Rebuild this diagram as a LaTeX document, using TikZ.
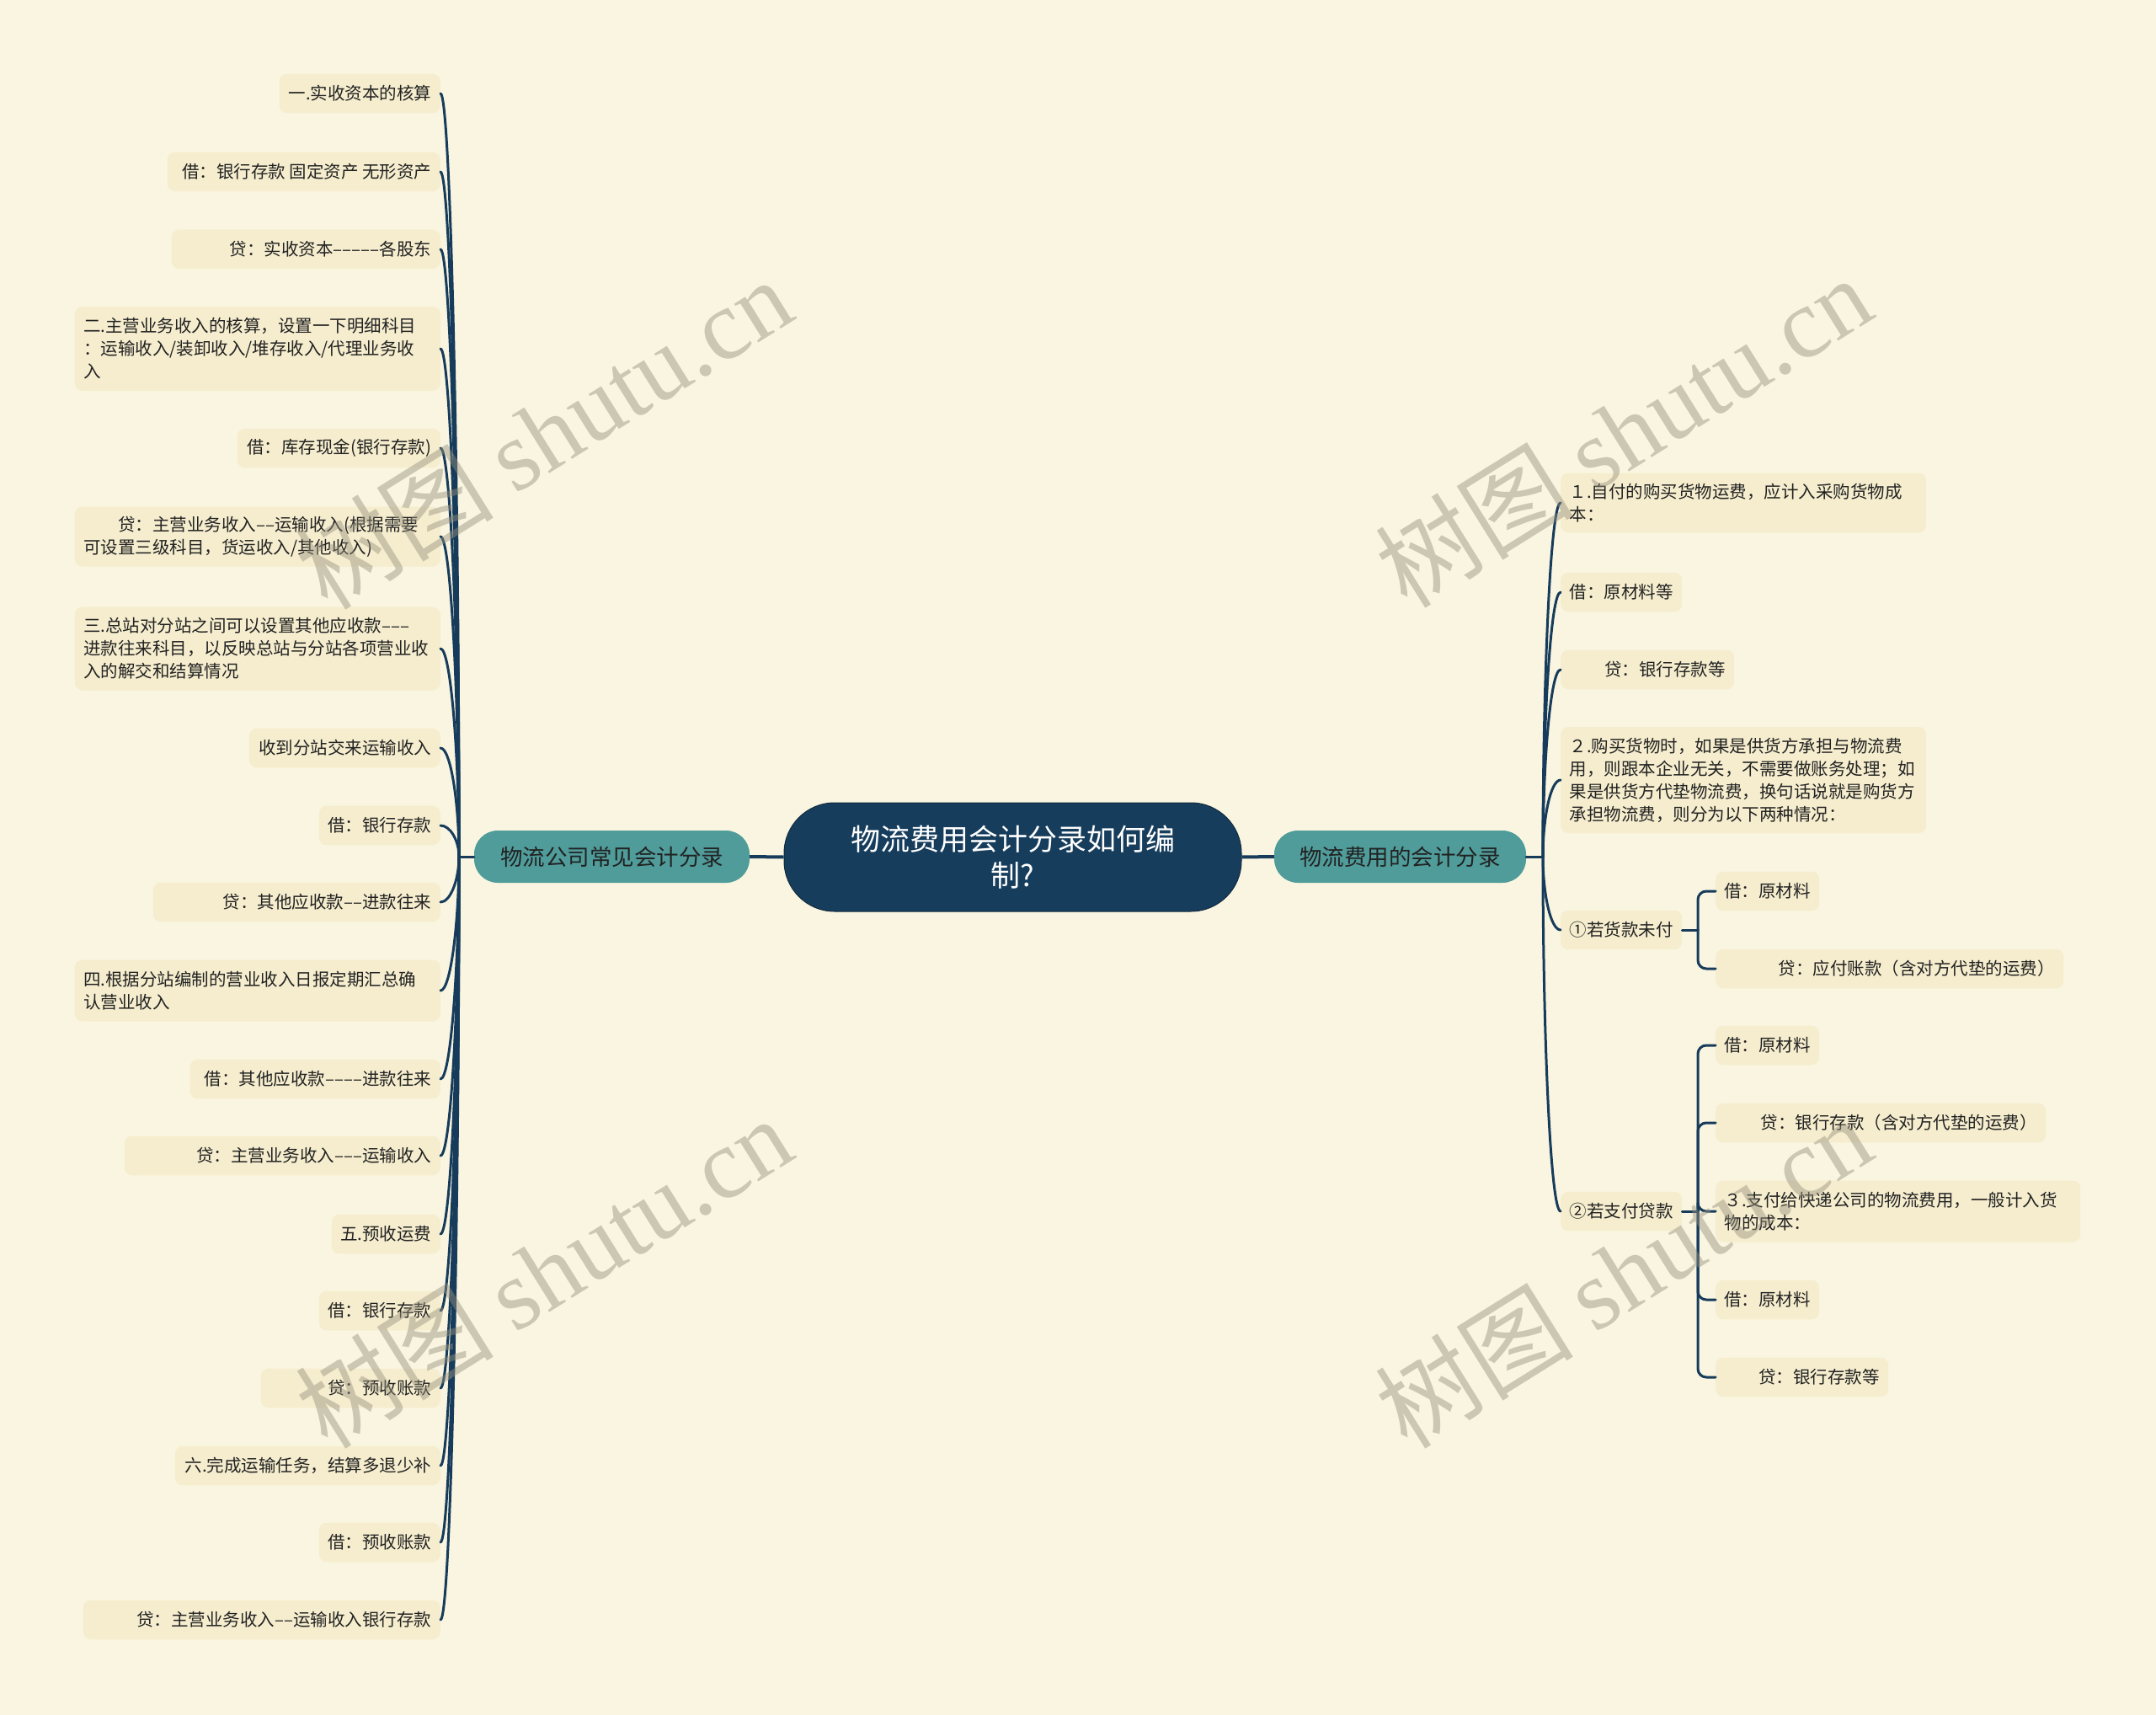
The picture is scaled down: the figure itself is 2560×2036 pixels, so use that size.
\documentclass[tikz,border=0pt]{standalone}
\usepackage{fontspec}
\setmainfont{Noto Sans CJK SC}
\newfontfamily\wmserif{Liberation Serif}
\usetikzlibrary{calc}
\definecolor{bgc}{RGB}{250,245,224}
\definecolor{leafc}{RGB}{245,237,206}
\definecolor{linec}{RGB}{23,60,91}
\definecolor{rootc}{RGB}{23,61,92}
\definecolor{mainc}{RGB}{79,156,154}
\definecolor{txt}{RGB}{34,34,34}
\definecolor{wmc}{RGB}{150,145,125}
\newcommand\leaffont{\fontsize{20.5pt}{27pt}\selectfont}
\newcommand\rb[2]{\makebox[#1pt][r]{#2}}
\tikzset{
  leaf/.style={fill=leafc, rounded corners=9pt, inner xsep=10.5pt, inner ysep=4pt,
    font=\leaffont, text=txt, minimum height=46.5pt},
  leafm/.style={leaf, align=left, text width=#1},
  lk/.style={draw=linec, line width=3pt, line cap=round},
  mk/.style={draw=linec, line width=4pt},
  mainnode/.style={fill=mainc, rounded corners=28pt, minimum height=62pt,
    text=txt, font=\fontsize{26.5pt}{30pt}\selectfont, inner sep=0pt},
  wm/.style={rotate=32, text=wmc, text opacity=0.45, inner sep=0pt,
    font=\fontsize{118pt}{118pt}\selectfont},
}
\begin{document}
\begin{tikzpicture}[x=1pt,y=-1pt]
\useasboundingbox (0,0) rectangle (2560,2036);
\fill[bgc] (0,0) rectangle (2560,2036);

% centre and main nodes
\node[fill=rootc, draw=rootc!70!black, line width=1pt, rounded corners=60pt,
  minimum width=543pt, minimum height=129pt, text width=420pt, align=center,
  text=white, font=\fontsize{35pt}{43pt}\selectfont] (C) at (1202.5,1017.5)
  {物流费用会计分录如何编\\制?};
\node[mainnode, minimum width=327pt] (L) at (726.5,1017) {物流公司常见会计分录};
\node[mainnode, minimum width=299pt] (R) at (1662.5,1017) {物流费用的会计分录};
\coordinate (Lr) at (545,1017);
\coordinate (Rr) at (1832,1017);

% left leaves
\node[leaf, anchor=east] (l1) at (523,111) {\rb{170}{一.实收资本的核算}};
\node[leaf, anchor=east] (l2) at (523,204) {\rb{303}{借：银行存款 固定资产 无形资产}};
\node[leaf, anchor=east] (l3) at (523,296) {\rb{298}{贷：实收资本–––––各股东}};
\node[leafm=413pt, minimum height=100pt, anchor=east] (l4) at (523,414)
  {二.主营业务收入的核算，设置一下明细科目\\：运输收入/装卸收入/堆存收入/代理业务收\\入};
\node[leaf, anchor=east] (l5) at (523,532) {\rb{220}{借：库存现金(银行存款)}};
\node[leafm=413pt, minimum height=71pt, anchor=east] (l6) at (523,637)
  {\hspace*{2em}贷：主营业务收入––运输收入(根据需要\\可设置三级科目，货运收入/其他收入)};
\node[leafm=413pt, minimum height=99pt, anchor=east] (l7) at (523,770)
  {三.总站对分站之间可以设置其他应收款–––\\进款往来科目，以反映总站与分站各项营业收\\入的解交和结算情况};
\node[leaf, anchor=east] (l8) at (523,888) {\rb{206}{收到分站交来运输收入}};
\node[leaf, anchor=east] (l9) at (523,980) {\rb{123}{借：银行存款}};
\node[leaf, anchor=east] (l10) at (523,1071) {\rb{320}{贷：其他应收款––进款往来}};
\node[leafm=413pt, minimum height=73pt, anchor=east] (l11) at (523,1176)
  {四.根据分站编制的营业收入日报定期汇总确\\认营业收入};
\node[leaf, anchor=east] (l12) at (523,1281) {\rb{276}{借：其他应收款––––进款往来}};
\node[leaf, anchor=east] (l13) at (523,1372) {\rb{354}{贷：主营业务收入–––运输收入}};
\node[leaf, anchor=east] (l14) at (523,1465) {\rb{108}{五.预收运费}};
\node[leaf, anchor=east] (l15) at (523,1556) {\rb{123}{借：银行存款}};
\node[leaf, anchor=east] (l16) at (523,1648) {\rb{192}{贷：预收账款}};
\node[leaf, anchor=east] (l17) at (523,1740) {\rb{294}{六.完成运输任务，结算多退少补}};
\node[leaf, anchor=east] (l18) at (523,1831) {\rb{123}{借：预收账款}};
\node[leaf, anchor=east] (l19) at (523,1923) {\rb{403}{贷：主营业务收入––运输收入银行存款}};

% right leaves
\node[leafm=413pt, minimum height=71pt, anchor=west] (r1) at (1853,597)
  {１.自付的购买货物运费，应计入采购货物成\\本：};
\node[leaf, anchor=west] (r2) at (1853,703) {\rb{123}{借：原材料等}};
\node[leaf, anchor=west] (r3) at (1853,795) {\rb{185}{贷：银行存款等}};
\node[leafm=413pt, minimum height=126pt, anchor=west] (r4) at (1853,926)
  {２.购买货物时，如果是供货方承担与物流费\\用，则跟本企业无关，不需要做账务处理；如\\果是供货方代垫物流费，换句话说就是购货方\\承担物流费，则分为以下两种情况：};
\node[leaf, anchor=west] (r5) at (1853,1104) {\rb{123}{①若货款未付}};
\node[leaf, anchor=west] (r6) at (1853,1438) {\rb{123}{②若支付贷款}};
\coordinate (R5r) at (2016,1104);
\coordinate (R6r) at (2016,1438);
\node[leaf, anchor=west] (r5a) at (2037,1058) {\rb{102}{借：原材料}};
\node[leaf, anchor=west] (r5b) at (2037,1150) {\rb{392}{贷：应付账款（含对方代垫的运费）}};
\node[leaf, anchor=west] (r6a) at (2037,1241) {\rb{102}{借：原材料}};
\node[leaf, anchor=west] (r6b) at (2037,1333) {\rb{371}{贷：银行存款（含对方代垫的运费）}};
\node[leafm=412pt, minimum height=73pt, anchor=west] (r6c) at (2037,1438)
  {３.支付给快递公司的物流费用，一般计入货\\物的成本：};
\node[leaf, anchor=west] (r6d) at (2037,1543) {\rb{102}{借：原材料}};
\node[leaf, anchor=west] (r6e) at (2037,1635) {\rb{184}{贷：银行存款等}};

% connectors
\draw[mk] (C.west) -- (L.east);
\draw[mk] (C.east) -- (R.west);
\draw[lk] (L.west) -- (Lr);
\draw[lk] (R.east) -- (Rr);
\foreach \n in {l1,l2,l3,l4,l5,l6,l7,l8,l9,l10,l11,l12,l13,l14,l15,l16,l17,l18,l19}
  \draw[lk] (Lr) .. controls ($(Lr)!0.5!(Lr|-\n.east)$) and ($(\n.east)+(12,0)$) .. (\n.east);
\foreach \n in {r1,r2,r3,r4,r5,r6}
  \draw[lk] (Rr) .. controls ($(Rr)!0.5!(Rr|-\n.west)$) and ($(\n.west)+(-12,0)$) .. (\n.west);
\draw[lk] (r5.east) -- (R5r);
\draw[lk] (r6.east) -- (R6r);
\foreach \n in {r5a,r5b}
  \draw[lk, rounded corners=10pt] (R5r) |- (\n.west);
\foreach \n in {r6a,r6b,r6c,r6d,r6e}
  \draw[lk, rounded corners=10pt] (R6r) |- (\n.west);

% watermarks
\node[wm] (w1) at (645,514) {树图 {\wmserif shutu.cn}};
\node[wm] (w2) at (1927,512) {树图 {\wmserif shutu.cn}};
\node[wm] (w3) at (645,1510) {树图 {\wmserif shutu.cn}};
\node[wm] (w4) at (1927,1510) {树图 {\wmserif shutu.cn}};
\end{tikzpicture}
\end{document}
